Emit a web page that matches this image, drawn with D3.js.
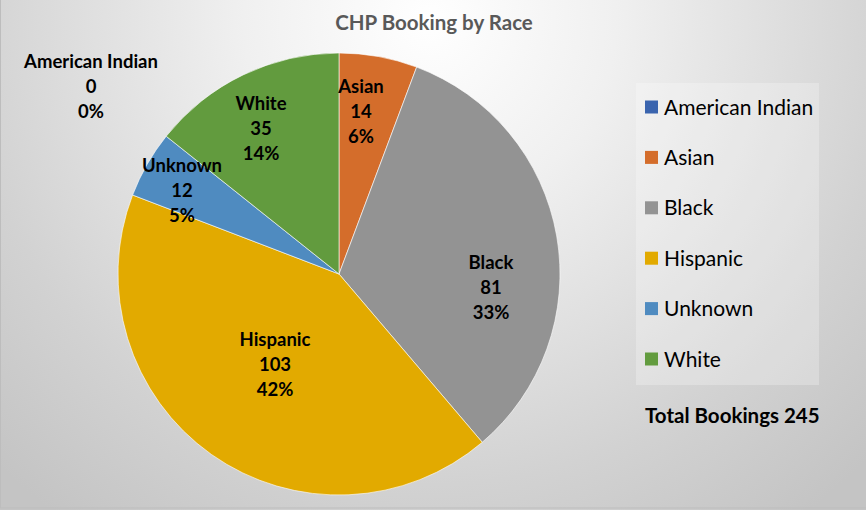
<!DOCTYPE html>
<html>
<head>
    <meta charset="utf-8">
    <script src="https://cdnjs.cloudflare.com/ajax/libs/d3/7.8.5/d3.min.js"></script>
    <style>
        body { margin: 0; overflow: hidden; }
        svg { display: block; font-family: Lato, "Open Sans", sans-serif; }
        .title { font-size: 20.5px; font-weight: bold; fill: #595959; }
        .slice-label { font-size: 18.5px; font-weight: bold; fill: #000; }
        .legend-label { font-size: 21px; fill: #000; }
        .total { font-size: 20.5px; font-weight: bold; fill: #000; }
    </style>
</head>
<body>
    <div id="chart"></div>

    <script>
        const categories = ['American Indian', 'Asian', 'Black', 'Hispanic', 'Unknown', 'White'];
        const bookings = [0, 14, 81, 103, 12, 35];
        const colors = ['#3a64ae', '#d46d2b', '#939393', '#e2aa00', '#4f8bc0', '#629b3e'];

        const width = 866;
        const height = 510;
        const total = d3.sum(bookings);

        const data = categories.map((c, i) => ({ name: c, value: bookings[i], color: colors[i] }));

        const svg = d3.select('#chart').append('svg')
            .attr('width', width)
            .attr('height', height);

        // background gradient
        const defs = svg.append('defs');
        const grad = defs.append('radialGradient')
            .attr('id', 'bg')
            .attr('gradientUnits', 'userSpaceOnUse')
            .attr('cx', 430).attr('cy', 20).attr('r', 620);
        grad.append('stop').attr('offset', '0%').attr('stop-color', '#ffffff');
        grad.append('stop').attr('offset', '30%').attr('stop-color', '#f0f0f0');
        grad.append('stop').attr('offset', '75%').attr('stop-color', '#d2d2d2');
        grad.append('stop').attr('offset', '100%').attr('stop-color', '#c4c4c4');

        svg.append('rect')
            .attr('width', width).attr('height', height)
            .attr('fill', 'url(#bg)');
        svg.append('rect')
            .attr('x', 0.5).attr('y', -1).attr('width', width).attr('height', height - 1)
            .attr('fill', 'none').attr('stroke', '#bdbdbd').attr('stroke-width', 1);

        svg.append('text')
            .attr('class', 'title')
            .attr('x', 434).attr('y', 30)
            .attr('text-anchor', 'middle')
            .text('CHP Booking by Race');

        // pie
        const cx = 339, cy = 274, radius = 221;
        const pie = d3.pie().sort(null).value(d => d.value);
        const arc = d3.arc().innerRadius(0).outerRadius(radius);
        const arcs = pie(data);

        const g = svg.append('g').attr('transform', `translate(${cx},${cy})`);
        g.selectAll('path.slice')
            .data(arcs)
            .enter().append('path')
                .attr('class', 'slice')
                .attr('d', arc)
                .attr('fill', d => d.data.color)
                .attr('stroke', d => d.data.value ? '#ffffff' : 'none')
                .attr('stroke-width', 0.6);

        // label positions (relative to pie centre)
        const labelPos = {
            'American Indian': [-248, -206],
            'Asian': [22, -181],
            'Black': [152, -5],
            'Hispanic': [-64, 72],
            'Unknown': [-157, -102],
            'White': [-78, -164]
        };

        const labels = g.selectAll('text.slice-label')
            .data(arcs)
            .enter().append('text')
                .attr('class', 'slice-label')
                .attr('text-anchor', 'middle')
                .attr('transform', d => `translate(${labelPos[d.data.name]})`);
        labels.each(function(d) {
            const t = d3.select(this);
            const lines = [d.data.name, d.data.value, Math.round(d.data.value / total * 100) + '%'];
            lines.forEach((l, i) => {
                t.append('tspan').attr('x', 0).attr('y', i * 24.8).text(l);
            });
        });

        // legend
        const legend = svg.append('g').attr('transform', 'translate(636,83)');
        legend.append('rect')
            .attr('width', 183).attr('height', 302)
            .attr('fill', '#ffffff').attr('fill-opacity', 0.25);

        const legendY = d3.scalePoint().domain(categories).range([24, 276]);
        const item = legend.selectAll('g.item')
            .data(data)
            .enter().append('g')
                .attr('class', 'item')
                .attr('transform', d => `translate(0,${legendY(d.name)})`);
        item.append('rect')
            .attr('x', 9).attr('y', -6.5)
            .attr('width', 13).attr('height', 13)
            .attr('fill', d => d.color);
        item.append('text')
            .attr('class', 'legend-label')
            .attr('x', 28).attr('y', 7.5)
            .text(d => d.name);

        svg.append('text')
            .attr('class', 'total')
            .attr('x', 645).attr('y', 423)
            .text('Total Bookings ' + total);
    </script>
</body>
</html>
